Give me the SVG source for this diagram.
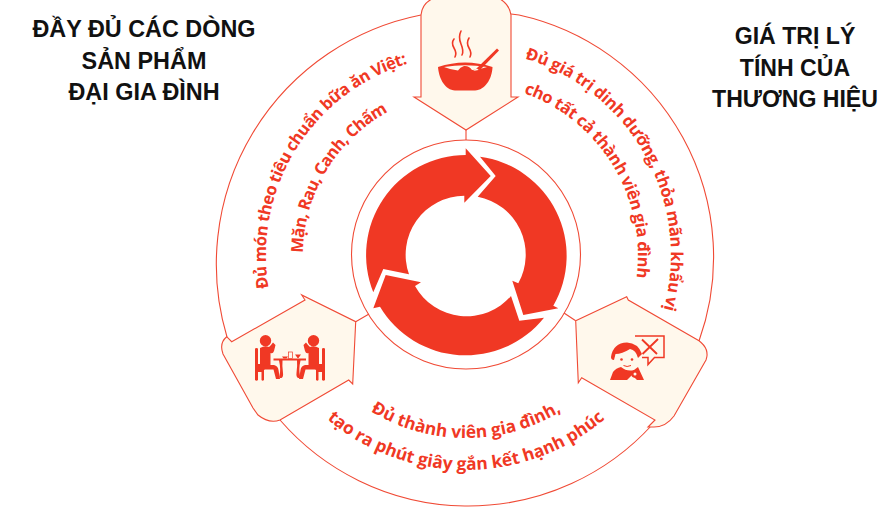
<svg xmlns="http://www.w3.org/2000/svg" width="884" height="509" viewBox="0 0 884 509">
<style>
.o{fill:none;stroke:#F04A35;stroke-width:1.1}
.p{fill:#FFF8EC;stroke:#F04A35;stroke-width:1.1;stroke-linejoin:miter}
.r{fill:#F03824}
.c{fill:#FFF8EC}
.t{font-family:"Open Sans","Noto Sans",sans-serif;font-weight:700;font-size:16.5px;fill:#F03824}
.b{font-size:17.300px}
.h{font-family:"Liberation Sans",Arial,sans-serif;font-weight:700;font-size:23.400px;fill:#111;text-anchor:middle}
.h2{font-size:23.100px}
.st{fill:none;stroke:#F03824;stroke-width:1.6;stroke-linecap:round}
</style>
<defs>
<path id="a1" d="M524.9 58.7A205 205 0 0 1 643.5 357.5"/>
<path id="a2" d="M523.7 93A172 172 0 0 1 615 341"/>
<path id="a3" d="M268.7 288A200 200 0 0 1 466 55"/>
<path id="a4" d="M303 253A163 163 0 0 1 466 92"/>
<path id="a5" d="M336.6 384.4A183 183 0 0 0 595.4 384.4"/>
<path id="a6" d="M314 407A215 215 0 0 0 618 407"/>
</defs>
<g id="connectors">
<path class="o" d="M421 15A254 254 0 0 0 227 337"/>
<path class="o" d="M511 14L519 15A248 248 0 0 1 699 341"/>
<path class="o" d="M280 420A249 249 0 0 0 652 425"/>
<path class="o" d="M466 130V140M355.700 321.700L369 314M575.700 320.700L564 313"/>
</g>
<g id="center-ring">
<circle class="o" cx="466" cy="254.500" r="114.500"/>
<path class="r" d="M373.300 292.300A100 100 0 0 1 465.700 155L465.700 148.300L490.700 176L464.300 202.700L464.300 195.700A59 59 0 0 0 409 274.300L383.300 269Z"/>
<path class="r" d="M480 156.700A100 100 0 0 1 553.300 305.700L558.300 308.300L523.300 315L512.300 280.700L518.300 283.300A59 59 0 0 0 477.700 196.700L495.700 176Z"/>
<path class="r" d="M544 317.700A100 100 0 0 1 380 306.700L373.300 308.300L385.700 275L421 282.300L415 286A59 59 0 0 0 511 296L519.300 320.700Z"/>
</g>
<g id="node-top">
<path class="p" d="M421 97V15Q422 3 434 -2H498Q509 3 511 15V97H518L466 130L414 97Z"/>
<path class="r" d="M438 67Q465 58 492.500 67C492 79 485 90 475 90.500H455C445 90 439 79 438 67Z"/>
<path class="c" d="M444 67Q465 63.500 487 67Q478 70 472 70Q469 65.500 464 66Q460 67 458 70.500Q450 69.500 444 67Z"/>
<path class="r" d="M476 69L497 48.500L499 50.500L480 70Z"/>
<path class="c" d="M473 71L477 68.500L478.500 70Z"/>
<path class="st" d="M454 39Q451 43 454 48T455 57M461 31Q458 37 461 44T462 55M469 38Q466 43 469 48T470 57"/>
</g>
<g id="node-left">
<path class="p" d="M231.700 341.700L305 300L301.700 295L355.700 321.700L352.700 384L348.700 380L280 420Q269 424 258 415L253 408L223 354Q219 343 226.700 336.700Z"/>
<g class="r">
<circle cx="265.500" cy="340.700" r="5.700"/><circle cx="313.500" cy="340.700" r="5.700"/>
<path d="M260 348Q265 345 269 347L271 345L273 342.500L275.500 345L274 351Q273 354 270.500 353V365H274Q278 366 278.500 370L280 379H276L273.500 369.500H263Q260 369 260 366Z"/>
<path d="M319 348Q314 345 310 347L308 345L306 342.500L303.500 345L305 351Q306 354 308.500 353V365H305Q301 366 300.500 370L299 379H303L305.500 369.500H316Q319 369 319 366Z"/>
<path d="M255 349Q255 348 256.500 348Q258 348 258 349V364H262L264.500 366V370H264V380Q262.500 381.500 261.500 380V372H258V380Q256.500 381.500 255 380Z"/>
<path d="M325 349Q325 348 323.500 348Q322 348 322 349V364H318L315.500 366V370H316V380Q317.500 381.500 318.500 380V372H322V380Q323.500 381.500 325 380Z"/>
<path d="M273.500 358.500H306V360.500H300.500Q298.500 369 300 376Q301 378 298 378Q296 377 296.500 373Q297.500 366 297 360.500H282.500Q282 366 283 373Q283.500 377 281.500 378Q278.500 378 279.500 376Q281 369 279 360.500H273.500Z"/>
<path d="M282 356.500H288L286.500 358.500H283.500ZM295 354.500H301L298.500 358H297.500Z"/>
</g>
<rect x="288.500" y="352" width="4" height="6.500" fill="#FFF8EC" stroke="#F03824" stroke-width=".7"/>
</g>
<g id="node-right">
<path class="p" d="M575.700 320.700L626.700 296.700L628.300 300L699 340.700Q710 349 706 360L674 416Q666 427 654 427H648L655 420L581.700 377.700L578.300 382.700Z"/>
<path d="M635 336H664V357.500H654.500L648 364.500V357.500H642" fill="none" stroke="#F03824" stroke-width="1.500"/>
<path d="M642 339.500L657 354M658 339L642.500 354" fill="none" stroke="#F03824" stroke-width="1.900"/>
<g class="r">
<path d="M611 357Q613 343 627 342.500Q638 343 642 354L638 358Q636 350 630 349Q622 354 615.500 354L614 360Q611 360 611 357Z"/>
<path d="M610 380L613 372Q616 368 621 367Q627 372 634 370L638 367L644 380H637L632 375L627 380Z"/>
</g>
<circle class="r" cx="621.500" cy="359.500" r="1.300"/><circle class="r" cx="632" cy="359.500" r="1.300"/>
<path d="M623.500 365.500Q627 367.500 631 365.500" fill="none" stroke="#F03824" stroke-width="1"/>
<circle class="r" cx="635" cy="374" r="3.800"/>
<circle class="c" cx="635" cy="374" r="1.500"/>
</g>
<g id="labels">
<text class="t"><textPath href="#a1" textLength="317">Đủ giá trị dinh dưỡng, thỏa mãn khẩu vị</textPath></text>
<text class="t"><textPath href="#a2" textLength="234">cho tất cả thành viên gia đình</textPath></text>
<text class="t"><textPath href="#a3" textLength="288">Đủ món theo tiêu chuẩn bữa ăn Việt:</textPath></text>
<text class="t"><textPath href="#a4" textLength="173">Mặn, Rau, Canh, Chấm</textPath></text>
<text class="t b" text-anchor="middle"><textPath href="#a5" startOffset="50%">Đủ thành viên gia đình,</textPath></text>
<text class="t b" text-anchor="middle"><textPath href="#a6" startOffset="50%">tạo ra phút giây gắn kết hạnh phúc</textPath></text>
<text class="h" x="144" y="37">ĐẦY ĐỦ CÁC DÒNG</text>
<text class="h" x="144" y="69">SẢN PHẨM</text>
<text class="h" x="144" y="100">ĐẠI GIA ĐÌNH</text>
<text class="h h2" x="795" y="44">GIÁ TRỊ LÝ</text>
<text class="h h2" x="795" y="76">TÍNH CỦA</text>
<text class="h h2" x="795" y="107">THƯƠNG HIỆU</text>
</g>
</svg>
